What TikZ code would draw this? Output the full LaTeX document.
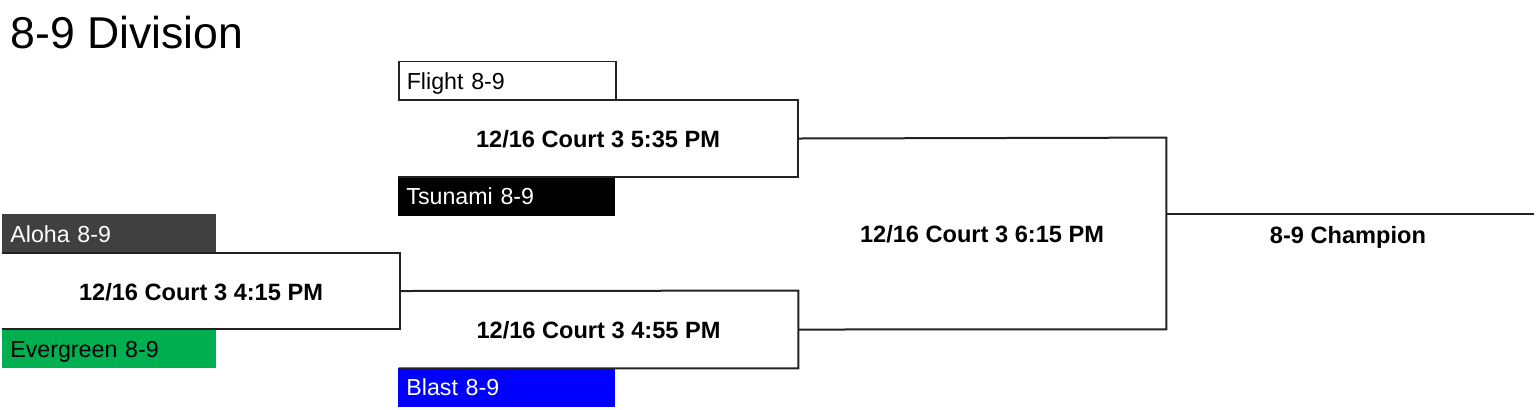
\documentclass[tikz,border=0pt]{standalone}
\usepackage{fontspec}
\setmainfont{Liberation Sans}
\definecolor{alohagray}{HTML}{404040}
\definecolor{evergreen}{HTML}{00B050}
\definecolor{blastblue}{HTML}{0000FF}
\definecolor{linecol}{HTML}{222222}
\begin{document}
\begin{tikzpicture}[x=0.5pt,y=-0.5pt,
  team/.style={anchor=west, minimum height=19.5pt, text width=99pt, inner xsep=4pt, inner ysep=0pt,
    align=left, text height=9pt, text depth=0.5pt, font=\fontsize{11.6}{13}\selectfont},
  match/.style={inner sep=0pt, font=\bfseries\fontsize{11.8}{13}\selectfont, text height=9pt, text depth=0pt},
  bracket/.style={line width=1pt, draw=linecol},
]
\useasboundingbox (0,0) rectangle (1536,409);
\node[anchor=base west, inner sep=0pt, font=\fontsize{22.3}{26}\selectfont] (title) at (10,48) {8-9 Division};

% team boxes
\node[team, fill=alohagray, text=white] (aloha) at (2,233.5) {Aloha 8-9};
\node[team, fill=evergreen, text=black] (evergreen) at (2,348.5) {Evergreen 8-9};
\node[team, fill=white, draw=linecol, line width=0.8pt, text=black, text width=100.5pt] (flight) at (398,81) {Flight 8-9};
\node[team, fill=black, text=white, text width=100.5pt] (tsunami) at (398,196) {Tsunami 8-9};
\node[team, fill=blastblue, text=white, text width=100.5pt] (blast) at (398,387) {Blast 8-9};

% matches
\node[match, minimum width=199pt, minimum height=38pt] (m1) at (201,291) {12/16 Court 3 4:15 PM};
\node[match, minimum width=200pt, minimum height=38.5pt] (m2) at (598,138.5) {12/16 Court 3 5:35 PM};
\node[match, minimum width=199.5pt, minimum height=38.5pt] (m3) at (598.5,329.5) {12/16 Court 3 4:55 PM};
\node[match, minimum width=184pt, minimum height=95.5pt] (fin) at (982,233.5) {12/16 Court 3 6:15 PM};
\node[match] (champ) at (1348,234) {8-9 Champion};

\draw[bracket] (m1.north west) -- (m1.north east) -- (m1.south east) -- (m1.south west);
\draw[bracket] (m2.north west) -- (m2.north east) -- (m2.south east) -- (m2.south west);
\draw[bracket] (m1.east) -- (m3.north east) -- (m3.south east) -- (m3.south west);
\draw[bracket] (m2.east) -- (fin.north east) -- (fin.south east) -- (m3.east);
\coordinate (cs) at (1166,214);
\coordinate (ce) at (1534,214);
\draw[bracket] (cs) -- (ce);
\end{tikzpicture}
\end{document}
